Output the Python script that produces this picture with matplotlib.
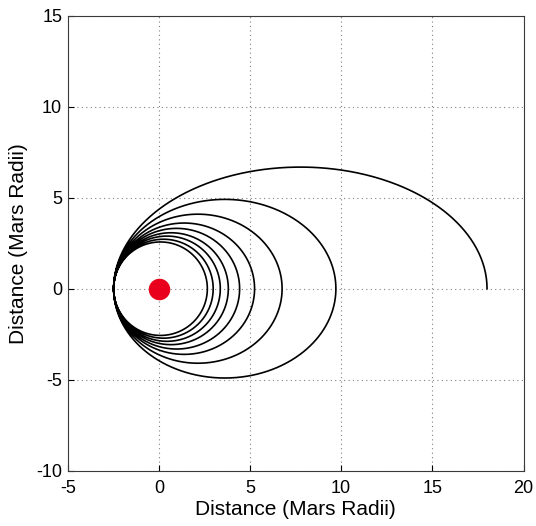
import numpy as np
import matplotlib
matplotlib.use("Agg")
import matplotlib.pyplot as plt

plt.rcParams['font.family'] = ['Liberation Sans', 'DejaVu Sans']
plt.rcParams['axes.unicode_minus'] = False

# Orbit data (Mars radii): apoapsis distance for each successive orbit
apoapsis = [18.0, 9.71, 6.76, 5.25, 4.43, 3.81, 3.37, 2.98, 2.66]
periapsis = 2.48
mars_pos = (0.0, 0.0)

xticks = [-5, 0, 5, 10, 15, 20]
yticks = [-10, -5, 0, 5, 10, 15]
xlabel = "Distance (Mars Radii)"
ylabel = "Distance (Mars Radii)"


def arc(ra, rp, t0, t1, n=400):
    e = (ra - rp) / (ra + rp)
    p = 2 * ra * rp / (ra + rp)
    th = np.linspace(t0, t1, n)
    r = p / (1 - e * np.cos(th))
    return r * np.cos(th), r * np.sin(th)


xs, ys = [], []
# first half orbit from apoapsis (top half)
x, y = arc(apoapsis[0], periapsis, 0, np.pi)
xs.append(x); ys.append(y)
for ra in apoapsis[1:]:
    x, y = arc(ra, periapsis, np.pi, 2 * np.pi)
    xs.append(x); ys.append(y)
    x, y = arc(ra, periapsis, 0, np.pi)
    xs.append(x); ys.append(y)
X = np.concatenate(xs)
Y = np.concatenate(ys)

fig = plt.figure(figsize=(5.36, 5.26), dpi=100)
ax = fig.add_axes([0.1263, 0.1051, 0.8504, 0.8651])
ax.plot(X, Y, color='black', lw=1.2)
ax.plot(*mars_pos, 'o', color='#e8001c', markersize=15.5, markeredgewidth=0)

ax.set_xlim(-5, 20)
ax.set_ylim(-10, 15)
ax.set_xticks(xticks)
ax.set_yticks(yticks)
ax.set_xticklabels([str(t) for t in xticks])
ax.set_yticklabels([str(t) for t in yticks])
ax.grid(True, linestyle=(0, (1, 3)), color='#808080', lw=0.8)
ax.tick_params(direction='in', length=4, labelsize=13, colors='black')
ax.tick_params(axis='x', pad=7)
ax.tick_params(axis='y', pad=4)
for s in ax.spines.values():
    s.set_color('#3a3a3a')
    s.set_linewidth(0.8)
ax.set_xlabel(xlabel, fontsize=15, labelpad=2)
ax.set_ylabel(ylabel, fontsize=15, labelpad=6)

fig.savefig("out.png", dpi=100)
